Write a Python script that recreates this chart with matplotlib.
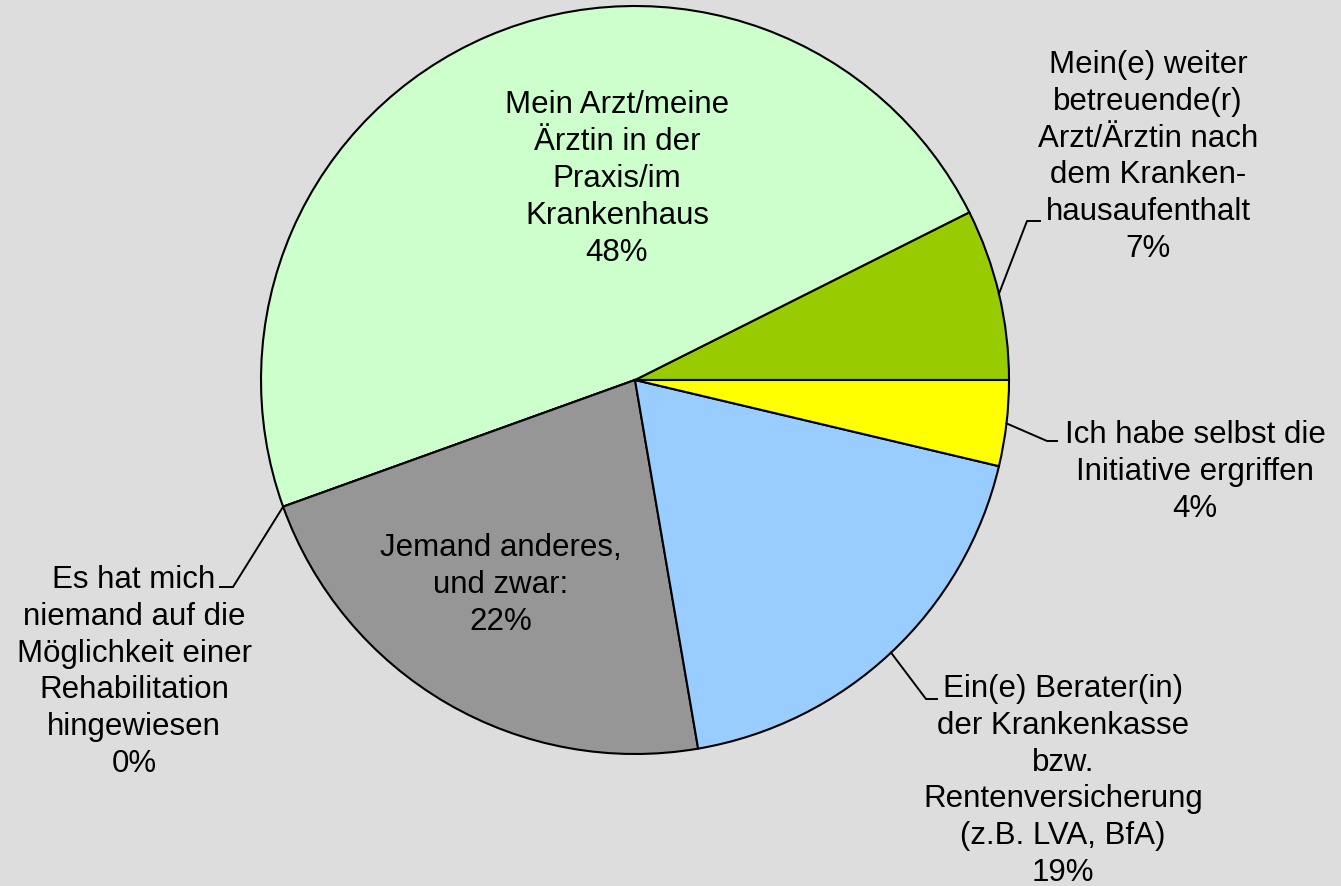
import matplotlib.pyplot as plt
import numpy as np

# Anteile (in %), Reihenfolge gegen den Uhrzeigersinn ab 3 Uhr
kategorien = [
    "Mein(e) weiter\nbetreuende(r)\nArzt/Ärztin nach\ndem Kranken-\nhausaufenthalt",
    "Mein Arzt/meine\nÄrztin in der\nPraxis/im\nKrankenhaus",
    "Es hat mich\nniemand auf die\nMöglichkeit einer\nRehabilitation\nhingewiesen",
    "Jemand anderes,\nund zwar:",
    "Ein(e) Berater(in)\nder Krankenkasse\nbzw.\nRentenversicherung\n(z.B. LVA, BfA)",
    "Ich habe selbst die\nInitiative ergriffen",
]
werte = [7.4, 48.1, 0.0, 22.2, 18.6, 3.7]
farben = ["#99CC00", "#CCFFCC", "#FFFFFF", "#969696", "#99CCFF", "#FFFF00"]

plt.rcParams['font.family'] = ['Liberation Sans', 'DejaVu Sans']

W, H = 1341, 887
fig = plt.figure(figsize=(W / 100, H / 100), dpi=100)
fig.patch.set_facecolor("#DDDDDD")
ax = fig.add_axes([0, 0, 1, 1])

cx, cy, r = 635, H - 381, 374
wedges, _ = ax.pie(werte, colors=farben, startangle=0, counterclock=True,
                   center=(cx, cy), radius=r, frame=True,
                   wedgeprops=dict(edgecolor="black", linewidth=1.5))
ax.set_xlim(0, W)
ax.set_ylim(0, H)
ax.set_aspect('equal')
ax.axis('off')

fs = 22.5
ls = 1.3
texte = [kategorien[i] + "\n%d%%" % round(werte[i]) for i in range(len(werte))]

# innen liegende Beschriftungen
ax.text(617, H - 179, texte[1], ha='center', va='center', fontsize=fs, linespacing=ls)
ax.text(501, H - 585, texte[3], ha='center', va='center', fontsize=fs, linespacing=ls)

# aussen liegende Beschriftungen mit Fuehrungslinien
# (index, Textposition, Knickpunkt, Ende der Linie)
aussen = [
    (0, (1148, 157), (1027, 222), (1040, 222)),
    (5, (1195, 472), (1047, 442), (1057, 442)),
    (2, (134, 672), (233, 588), (220, 588)),
    (4, (1063, 781), (926, 700), (937, 700)),
]
kum = np.concatenate([[0], np.cumsum(werte)])
for i, pos, knick, ende in aussen:
    if werte[i] > 0:
        winkel = np.deg2rad((kum[i] + kum[i + 1]) / 2 * 3.6)
    else:
        winkel = np.deg2rad(kum[i] * 3.6)
    x0 = cx + r * np.cos(winkel)
    y0 = cy + r * np.sin(winkel)
    ax.plot([x0, knick[0], ende[0]], [y0, H - knick[1], H - ende[1]],
            color="black", linewidth=1.4)
    ax.text(pos[0], H - pos[1], texte[i], ha='center', va='center',
            fontsize=fs, linespacing=ls)

fig.savefig("out.png", dpi=100, facecolor=fig.get_facecolor())
